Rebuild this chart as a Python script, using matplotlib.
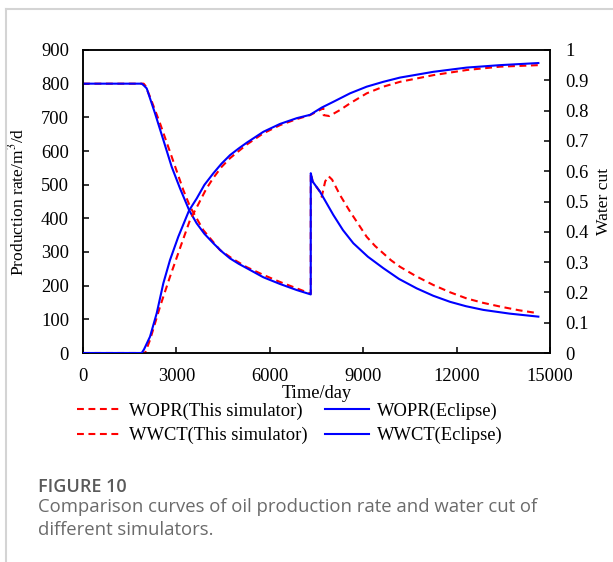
import matplotlib.pyplot as plt
from matplotlib.lines import Line2D

# Oil production rate (m3/d) vs time (day)
wopr_sim_t = [0, 1950, 2010, 2152, 2474, 2849, 3222, 3437, 3864, 4398, 4800, 5259, 5792,
              6300, 6865, 7315, 7316, 7378, 7613, 7667, 7780, 7890, 8000, 8256, 8577,
              8850, 9113, 9380, 9646, 9900, 10183, 10700, 11253, 11800, 12325, 12850,
              13395, 14000, 14626]
wopr_sim = [800, 800, 793, 761, 682, 583, 484, 435, 365, 306, 280, 255, 232,
            212, 192, 176, 534, 509, 479, 464, 510, 525, 515, 469, 420,
            382, 345, 318, 296, 275, 256, 228, 202, 180, 162, 149,
            138, 127, 118]

wopr_ecl_t = [0, 1886, 1950, 2046, 2313, 2580, 2849, 3116, 3415, 3652, 3900, 4186, 4450,
              4722, 5000, 5259, 5792, 6328, 6865, 7315, 7316, 7378, 7613, 8041, 8350,
              8683, 9150, 9646, 10150, 10718, 11250, 11789, 12300, 12860, 13700, 14626]
wopr_ecl = [800, 800, 795, 786, 712, 633, 553, 489, 423, 385, 354, 326, 302,
            281, 265, 252, 225, 205, 187, 174, 534, 509, 479, 410, 365,
            326, 286, 252, 220, 192, 170, 152, 139, 128, 117, 108]

# Water cut (fraction) vs time (day)
wwct_sim_t = [0, 1992, 2152, 2474, 2795, 3171, 3437, 3700, 3950, 4186, 4450, 4722, 5259,
              5792, 6328, 6865, 7292, 7668, 7720, 7730, 7913, 8256, 8577, 9113, 9646,
              10183, 11253, 12325, 13395, 14626]
wwct_sim = [0, 0, 0.043, 0.153, 0.252, 0.362, 0.439, 0.49, 0.54, 0.578, 0.614, 0.643, 0.688,
            0.725, 0.752, 0.772, 0.785, 0.805, 0.808, 0.785, 0.782, 0.802, 0.824, 0.857, 0.879,
            0.895, 0.917, 0.934, 0.945, 0.950]

wwct_ecl_t = [0, 1886, 1960, 2153, 2367, 2580, 2795, 3062, 3405, 3652, 3900, 4186, 4450,
              4722, 5000, 5259, 5792, 6328, 6865, 7292, 7668, 8041, 8577, 9113, 9646,
              10183, 11253, 12325, 13395, 14626]
wwct_ecl = [0, 0, 0.012, 0.054, 0.131, 0.23, 0.307, 0.384, 0.47, 0.51, 0.555, 0.593, 0.625,
            0.653, 0.675, 0.694, 0.730, 0.756, 0.775, 0.786, 0.81, 0.829, 0.857, 0.879, 0.895,
            0.909, 0.928, 0.942, 0.950, 0.957]

x_ticks = [0, 3000, 6000, 9000, 12000, 15000]
left_ticks = list(range(0, 1000, 100))
right_ticks = [0, 0.1, 0.2, 0.3, 0.4, 0.5, 0.6, 0.7, 0.8, 0.9, 1]
right_labels = ['0', '0.1', '0.2', '0.3', '0.4', '0.5', '0.6', '0.7', '0.8', '0.9', '1']

plt.rcParams['font.family'] = ['Liberation Serif', 'DejaVu Serif']
plt.rcParams['mathtext.fontset'] = 'stix'

W, H = 613, 562
fig = plt.figure(figsize=(W / 100, H / 100), dpi=100)
ax = fig.add_axes([83 / W, 1 - 353 / H, 467 / W, 303 / H])
ax2 = ax.twinx()

red = '#ff0000'
blue = '#0000ff'
dash = (0, (3.3, 2.2))
fs = 13.3

l1, = ax.plot(wopr_sim_t, wopr_sim, color=red, lw=1.5, linestyle=dash, zorder=2)
l3, = ax.plot(wopr_ecl_t, wopr_ecl, color=blue, lw=1.5, zorder=3)
l2, = ax2.plot(wwct_sim_t, wwct_sim, color=red, lw=1.5, linestyle=dash, zorder=2)
l4, = ax2.plot(wwct_ecl_t, wwct_ecl, color=blue, lw=1.5, zorder=3)

ax.set_xlim(0, 15000)
ax.set_ylim(0, 900)
ax2.set_ylim(0, 1)
ax.set_xticks(x_ticks)
ax.set_yticks(left_ticks)
ax2.set_yticks(right_ticks)
ax2.set_yticklabels(right_labels)

for a in (ax, ax2):
    a.tick_params(direction='in', length=4, width=1.1, labelsize=fs)
    for s in a.spines.values():
        s.set_linewidth(1.1)
ax.tick_params(axis='x', pad=11)
ax.tick_params(axis='y', pad=10)
ax2.tick_params(axis='y', pad=11)

ax.set_xlabel('Time/day', fontsize=fs, labelpad=0)
ax.set_ylabel('Production rate/m$^3$/d', fontsize=12.6)
ax.yaxis.set_label_coords(-0.12, 0.5)
ax2.set_ylabel('Water cut', fontsize=12.6)
ax2.yaxis.set_label_coords(1.099, 0.5)

fig.legend([l1, l2, l3, l4],
           ['WOPR(This simulator)', 'WWCT(This simulator)', 'WOPR(Eclipse)', 'WWCT(Eclipse)'],
           ncol=2, loc='center', bbox_to_anchor=(290 / W, 1 - 423.5 / H), frameon=False,
           fontsize=fs, handlelength=2.35, handletextpad=0.45, columnspacing=0.98,
           labelspacing=0.38, borderpad=0)

# page frame
fig.add_artist(Line2D([6 / W, 6 / W], [0, 1 - 9 / H], color='#d4d4d4', lw=1.5))
fig.add_artist(Line2D([6 / W, 1], [1 - 9 / H, 1 - 9 / H], color='#d4d4d4', lw=1.5))

fig.text(38 / W, 1 - 487 / H, 'FIGURE 10', family='Open Sans', weight='semibold',
         color='#5a5a5a', fontsize=13, va='center')
fig.text(38 / W, 1 - 507 / H, 'Comparison curves of oil production rate and water cut of',
         family='Open Sans', color='#6b6b6b', fontsize=13.3, va='center')
fig.text(38 / W, 1 - 530 / H, 'different simulators.',
         family='Open Sans', color='#6b6b6b', fontsize=13.3, va='center')

fig.savefig('out.png', dpi=100)
